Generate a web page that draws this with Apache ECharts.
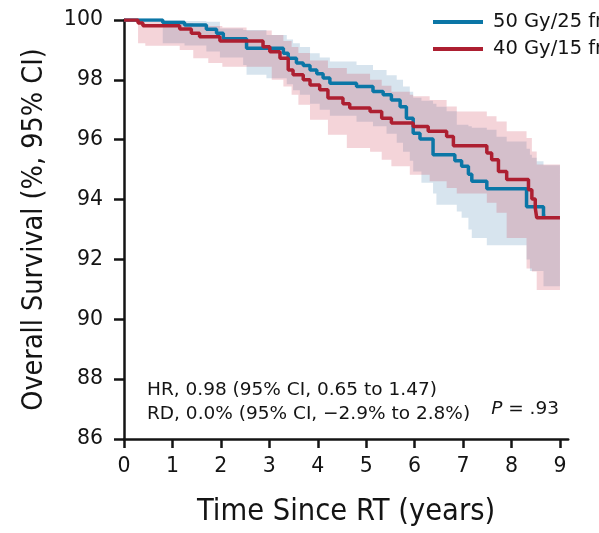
<!DOCTYPE html>
<html>
<head>
    <meta charset="utf-8">
    <title>index</title>
    <style>
        html, body { margin: 0; padding: 0; background: #fff; }
        #container { width: 599px; height: 533px; }
    </style>
</head>
<body>
    <div id="container"></div>
</body>
<script src="https://cdn.jsdelivr.net/npm/echarts@6/dist/echarts.min.js"></script>
<script type="text/javascript">
    // arms
    var armA = '50 Gy/25 fr';
    var armB = '40 Gy/15 fr';

    // Kaplan-Meier steps [years, survival %]
    var kmA = [[0, 100], [0.80, 99.92], [1.25, 99.83], [1.70, 99.69], [1.91, 99.56], [2.05, 99.37],
        [2.53, 99.06], [3.29, 98.89], [3.39, 98.72], [3.56, 98.56], [3.70, 98.48], [3.84, 98.33],
        [3.98, 98.2], [4.11, 98.06], [4.25, 97.89], [4.80, 97.78], [5.14, 97.61], [5.35, 97.5],
        [5.52, 97.33], [5.70, 97.1], [5.83, 96.72], [5.97, 96.22], [6.11, 96.02], [6.38, 95.5],
        [6.83, 95.3], [6.97, 95.11], [7.11, 94.85], [7.18, 94.61], [7.49, 94.36], [8.31, 93.76],
        [8.66, 93.45], [8.70, 93.45]];
    var kmB = [[0, 100], [0.29, 99.9], [0.39, 99.81], [1.15, 99.7], [1.39, 99.56], [1.56, 99.44],
        [1.98, 99.3], [2.87, 99.11], [3.01, 98.94], [3.22, 98.72], [3.39, 98.33], [3.49, 98.17],
        [3.70, 98.0], [3.84, 97.83], [4.04, 97.67], [4.21, 97.39], [4.52, 97.2], [4.66, 97.06],
        [5.08, 96.94], [5.32, 96.72], [5.52, 96.56], [5.97, 96.44], [6.28, 96.28], [6.66, 96.11],
        [6.80, 95.8], [7.49, 95.56], [7.59, 95.33], [7.73, 94.94], [7.90, 94.67], [8.35, 94.33],
        [8.42, 94.02], [8.49, 93.72], [8.52, 93.39], [9.0, 93.39]];

    // 95% CI bands [years, lower, upper]
    var ciA = [[0, 100, 100], [0.80, 99.22, 100], [1.25, 99.15, 99.97], [1.70, 98.95, 99.94],
        [1.98, 98.75, 99.72], [2.46, 98.5, 99.67], [2.53, 98.17, 99.67], [2.94, 98.05, 99.5],
        [3.36, 97.85, 99.35], [3.49, 97.65, 99.22], [3.63, 97.5, 99.1], [3.84, 97.2, 98.89],
        [4.04, 97.0, 98.75], [4.25, 96.8, 98.61], [4.80, 96.6, 98.5], [5.14, 96.45, 98.33],
        [5.42, 96.2, 98.15], [5.63, 95.9, 98.0], [5.76, 95.6, 97.78], [5.90, 95.3, 97.6],
        [5.97, 94.94, 97.4], [6.14, 94.56, 97.3], [6.38, 94.2, 97.2], [6.45, 93.83, 97.1],
        [6.66, 93.83, 96.95], [6.87, 93.6, 96.5], [6.97, 93.39, 96.5], [7.11, 93.0, 96.45],
        [7.18, 92.72, 96.4], [7.49, 92.47, 96.33], [7.69, 92.47, 96.1], [7.90, 92.47, 95.94],
        [8.31, 92.0, 95.7], [8.38, 91.61, 95.5], [8.42, 91.61, 95.4], [8.52, 91.61, 95.28],
        [8.66, 91.1, 95.15], [9.0, 91.1, 95.15]];
    var ciB = [[0, 100, 100], [0.29, 99.22, 99.98], [0.44, 99.14, 99.95], [1.15, 99.0, 99.9],
        [1.43, 98.72, 99.85], [1.74, 98.56, 99.8], [2.03, 98.44, 99.75], [2.53, 98.44, 99.65],
        [3.05, 98.0, 99.5], [3.29, 97.78, 99.3], [3.46, 97.5, 99.1], [3.60, 97.17, 98.9],
        [3.84, 96.67, 98.65], [4.21, 96.17, 98.4], [4.60, 95.72, 98.2], [5.08, 95.6, 98.0],
        [5.32, 95.33, 97.8], [5.52, 95.11, 97.6], [5.90, 94.83, 97.5], [5.97, 94.83, 97.45],
        [6.31, 94.61, 97.33], [6.66, 94.39, 97.11], [6.87, 94.2, 96.94], [7.49, 93.89, 96.78],
        [7.69, 93.56, 96.61], [7.90, 92.72, 96.28], [8.31, 91.7, 96.06], [8.42, 91.6, 95.61],
        [8.52, 90.98, 95.17], [9.0, 90.98, 95.17]];

    // axes
    var xTicks = [0, 1, 2, 3, 4, 5, 6, 7, 8, 9];
    var yMin = 86, yMax = 100, yStep = 2;

    // annotation text
    var hrText = 'HR, 0.98 (95% CI, 0.65 to 1.47)';
    var rdText = 'RD, 0.0% (95% CI, \u22122.9% to 2.8%)';
    var pText = '{i|P} = .93';

    var blue = '#0b76a6';
    var red = '#ad1f31';
    var ink = '#141414';
    var narrow = '"DejaVu Sans Condensed", "DejaVu Sans", sans-serif';
    var sans = '"DejaVu Sans", sans-serif';

    // stepped CI band drawn as one polygon, points mapped through the grid's scales
    function band(key, ci, color) {
        return {
            name: key, type: 'custom', coordinateSystem: 'cartesian2d',
            data: ci, encode: { x: 0, y: [1, 2] }, clip: true, silent: true, z: 1,
            renderItem: function (params, api) {
                if (params.dataIndex !== 0) return null;
                var upper = [], lower = [];
                for (var i = 0; i < ci.length; i++) {
                    var t0 = ci[i][0];
                    var t1 = i + 1 < ci.length ? ci[i + 1][0] : ci[i][0];
                    upper.push(api.coord([t0, ci[i][2]]), api.coord([t1, ci[i][2]]));
                    lower.push(api.coord([t0, ci[i][1]]), api.coord([t1, ci[i][1]]));
                }
                return {
                    type: 'polygon',
                    shape: { points: upper.concat(lower.reverse()) },
                    style: { fill: color }
                };
            }
        };
    }

    function curve(name, km, color) {
        return {
            name: name, type: 'line', step: 'end', data: km, symbol: 'none',
            lineStyle: { color: color, width: 3.5 }, itemStyle: { color: color }, z: 3
        };
    }

    var dom = document.getElementById('container');
    var myChart = echarts.init(dom, null, { renderer: 'canvas' });

    var option = {
        animation: false,
        backgroundColor: '#fff',
        grid: { left: 124, right: 30.8, top: 20, bottom: 93 },
        legend: {
            data: [armA, armB],
            orient: 'vertical',
            left: 428, top: 7,
            icon: 'rect', itemWidth: 50, itemHeight: 4, itemGap: 7,
            selectedMode: false,
            textStyle: { fontFamily: sans, fontSize: 19.5, color: ink, padding: [0, 0, 0, 5] }
        },
        xAxis: {
            type: 'value', min: 0, max: 9.17,
            name: 'Time Since RT (years)', nameLocation: 'middle', nameGap: 58,
            nameTextStyle: { fontFamily: narrow, fontSize: 30.5, color: ink },
            axisLine: { lineStyle: { color: ink, width: 2.5 } },
            axisTick: { customValues: xTicks, length: 9, lineStyle: { color: ink, width: 2.5 } },
            axisLabel: { customValues: xTicks, margin: 17, fontFamily: sans, fontSize: 20.5, color: ink },
            splitLine: { show: false }
        },
        yAxis: {
            type: 'value', min: yMin, max: yMax, interval: yStep,
            name: 'Overall Survival (%, 95% CI)', nameLocation: 'middle', nameGap: 75,
            nameTextStyle: { fontFamily: narrow, fontSize: 28.5, color: ink },
            axisLine: { show: true, lineStyle: { color: ink, width: 2.5 } },
            axisTick: { show: true, length: 10, lineStyle: { color: ink, width: 2.5 } },
            axisLabel: { margin: 21, fontFamily: sans, fontSize: 20.5, color: ink },
            splitLine: { show: false }
        },
        graphic: [
            { type: 'text', x: 147, y: 390, silent: true,
              style: { text: hrText, fontFamily: sans, fontSize: 18.5, fill: ink, align: 'left', verticalAlign: 'middle' } },
            { type: 'text', x: 147, y: 414, silent: true,
              style: { text: rdText, fontFamily: sans, fontSize: 18.5, fill: ink, align: 'left', verticalAlign: 'middle' } },
            { type: 'text', x: 559, y: 409, silent: true,
              style: { text: pText, fontFamily: sans, fontSize: 18.5, fill: ink, align: 'right', verticalAlign: 'middle',
                       rich: { i: { fontStyle: 'italic', fontFamily: sans, fontSize: 18.5, fill: ink } } } }
        ],
        series: [
            band('ciA', ciA, 'rgba(100,150,190,0.26)'),
            band('ciB', ciB, 'rgba(205,60,80,0.22)'),
            curve(armA, kmA, blue),
            curve(armB, kmB, red)
        ]
    };

    myChart.setOption(option, true);
</script>
</html>
